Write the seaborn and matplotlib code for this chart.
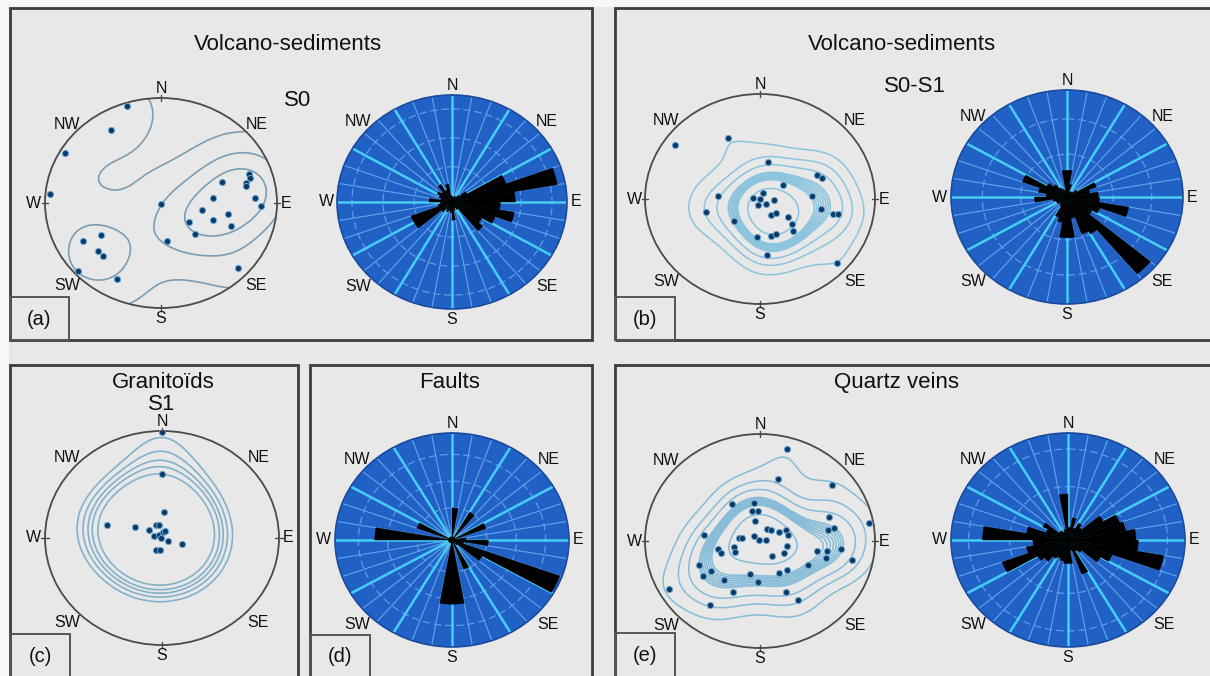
import numpy as np
import matplotlib
matplotlib.use("Agg")
import matplotlib.pyplot as plt
from matplotlib.patches import Rectangle, Circle
import seaborn as sns

sns.set_theme(style="white")
plt.rcParams['font.family'] = ['Liberation Sans', 'DejaVu Sans']

W, H = 1210, 676

# ---------------------------------------------------------------- data
# Rose diagrams: relative frequency per 10-degree azimuth class,
# classes 0-10, 10-20, ... 350-360 (clockwise from north)
bin_centers_deg = list(range(5, 360, 10))

rose_s0 = [0.05, 0.04, 0.06, 0.05, 0.08, 0.15, 0.50, 0.93, 0.55, 0.42,
           0.55, 0.40, 0.30, 0.35, 0.08, 0.06, 0.08, 0.17, 0.10, 0.08,
           0.10, 0.08, 0.12, 0.38, 0.38, 0.12, 0.10, 0.20, 0.10, 0.12,
           0.15, 0.12, 0.19, 0.12, 0.17, 0.06]

rose_s0s1 = [0.25, 0.12, 0.05, 0.06, 0.06, 0.10, 0.27, 0.20, 0.27, 0.28,
             0.54, 0.30, 0.25, 0.94, 0.40, 0.37, 0.20, 0.38, 0.38, 0.24,
             0.20, 0.10, 0.08, 0.10, 0.10, 0.12, 0.28, 0.18, 0.25, 0.41,
             0.20, 0.15, 0.10, 0.08, 0.06, 0.25]

rose_faults = [0.30, 0.03, 0.03, 0.30, 0.03, 0.03, 0.31, 0.03, 0.12, 0.31,
               0.10, 0.98, 0.30, 0.06, 0.03, 0.29, 0.03, 0.60, 0.60, 0.03,
               0.03, 0.03, 0.03, 0.03, 0.03, 0.03, 0.03, 0.66, 0.03, 0.32,
               0.03, 0.03, 0.03, 0.03, 0.03, 0.03]

rose_veins = [0.12, 0.21, 0.12, 0.18, 0.15, 0.35, 0.47, 0.50, 0.58, 0.60,
              0.83, 0.40, 0.32, 0.15, 0.12, 0.34, 0.10, 0.22, 0.22, 0.20,
              0.18, 0.20, 0.26, 0.30, 0.60, 0.36, 0.30, 0.73, 0.36, 0.20,
              0.25, 0.10, 0.10, 0.08, 0.10, 0.43]

# Stereonet poles, projected coordinates in the unit circle (x east, y north)
poles_s0_x = [-0.295, -0.43, -0.83, -0.96, 0.0, 0.76, 0.768, 0.73, 0.736,
              0.53, 0.45, 0.808, 0.865, 0.352, 0.58, 0.244, 0.444, 0.60,
              0.292, 0.052, -0.516, -0.673, -0.544, -0.496, -0.716,
              -0.381, 0.668]
poles_s0_y = [0.92, 0.70, 0.48, 0.086, -0.006, 0.276, 0.238, 0.19, 0.159,
              0.197, 0.048, 0.048, -0.025, -0.063, -0.10, -0.178, -0.165,
              -0.222, -0.298, -0.359, -0.308, -0.359, -0.454, -0.508,
              -0.648, -0.724, -0.616]

poles_s0s1_x = [-0.739, -0.275, 0.072, 0.493, 0.536, 0.197, -0.368, 0.029,
                -0.058, 0.0, -0.014, 0.049, 0.122, 0.455, -0.47, 0.096,
                0.136, -0.226, 0.246, 0.53, 0.638, 0.681, 0.275, 0.29,
                -0.029, 0.096, 0.136, 0.058, 0.67]
poles_s0s1_y = [0.514, 0.584, 0.356, 0.229, 0.197, 0.137, 0.025, 0.057,
                0.006, 0.0, -0.057, -0.048, -0.01, 0.032, -0.127, -0.152,
                -0.137, -0.21, -0.175, -0.095, -0.143, -0.143, -0.238,
                -0.30, -0.359, -0.349, -0.337, -0.533, -0.61]

poles_s1_x = [0.0, 0.0, 0.013, -0.47, -0.234, -0.107, -0.055, -0.027, -0.072,
              -0.027, 0.007, 0.027, -0.007, 0.05, 0.169, -0.05, -0.021]
poles_s1_y = [0.99, 0.60, 0.24, 0.125, 0.103, 0.078, 0.125, 0.119, 0.016,
              0.031, 0.056, 0.0625, 0.0, -0.031, -0.056, -0.116, -0.116]

poles_veins_x = [0.234, 0.153, 0.624, -0.243, -0.055, -0.069, -0.017, 0.604,
                 0.951, -0.04, 0.061, 0.095, 0.587, 0.645, -0.488, -0.185,
                 -0.156, -0.049, -0.006, 0.052, 0.168, 0.225, 0.243, -0.364,
                 -0.335, -0.228, -0.22, 0.234, 0.494, 0.581, 0.702, 0.205,
                 0.104, 0.572, 0.798, -0.532, -0.497, -0.422, -0.315, -0.09,
                 -0.017, 0.168, 0.234, 0.416, -0.792, -0.237, 0.228, 0.327,
                 -0.431]
poles_veins_y = [0.86, 0.575, 0.519, 0.348, 0.354, 0.276, 0.276, 0.224,
                 0.171, 0.183, 0.115, 0.106, 0.106, 0.121, 0.053, 0.028,
                 0.028, 0.043, 0.006, 0.012, 0.084, 0.099, 0.053, -0.071,
                 -0.112, -0.056, -0.102, -0.05, -0.096, -0.093, -0.071,
                 -0.112, -0.14, -0.155, -0.174, -0.227, -0.329, -0.283,
                 -0.36, -0.304, -0.382, -0.295, -0.267, -0.227, -0.444,
                 -0.475, -0.475, -0.553, -0.596]

DIRECTIONS = ["N", "NE", "E", "SE", "S", "SW", "W", "NW"]

# ---------------------------------------------------------------- helpers
BG = "#e8e8e8"
FRAME = "#3c3c3c"

fig = plt.figure(figsize=(W / 100, H / 100), dpi=100, facecolor=BG)


def fx(x):
    return x / W


def fy(y):
    return 1 - y / H


def frame(x0, y0, x1, y1, lw=1.7, color=FRAME, face="none", z=1):
    fig.add_artist(Rectangle((fx(x0), fy(y1)), (x1 - x0) / W, (y1 - y0) / H,
                             transform=fig.transFigure, facecolor=face,
                             edgecolor=color, lw=lw, zorder=z))


def ftext(x, y, s, size=16, **kw):
    fig.text(fx(x), fy(y), s, fontsize=size, ha="center", va="center",
             color="#111111", **kw)


def box_for(cx, cy, rx, ry):
    return [fx(cx - rx), fy(cy + ry), 2 * rx / W, 2 * ry / H]


# label positions in axes-fraction offsets from the circle centre
LABEL_POS = {
    "N": (0.0, 1.02, "center", "bottom"),
    "S": (0.0, -1.03, "center", "top"),
    "E": (1.03, 0.0, "left", "center"),
    "W": (-1.03, 0.0, "right", "center"),
    "NE": (0.73, 0.75, "left", "center"),
    "NW": (-0.70, 0.75, "right", "center"),
    "SE": (0.73, -0.79, "left", "center"),
    "SW": (-0.70, -0.79, "right", "center"),
}


def compass_labels(ax):
    for d in DIRECTIONS:
        nx, ny, ha, va = LABEL_POS[d]
        ax.text(0.5 + 0.5 * nx, 0.5 + 0.5 * ny, d, transform=ax.transAxes,
                ha=ha, va=va, fontsize=11.5, color="#111111", clip_on=False,
                zorder=10)


def pole_density(xs, ys, sigma, n=44):
    """Isotropic Gaussian point density on a coarse grid, scaled to 1."""
    g = np.linspace(-1, 1, n)
    gx, gy = np.meshgrid(g, g)
    dens = np.zeros_like(gx)
    for x, y in zip(xs, ys):
        dens += np.exp(-((gx - x) ** 2 + (gy - y) ** 2) / (2 * sigma ** 2))
    return gx, gy, dens / dens.max()


def stereonet(cx, cy, rx, ry, xs, ys, levels, sigma, line_color, lw):
    ax = fig.add_axes(box_for(cx, cy, rx, ry))
    rim = Circle((0, 0), 1, facecolor="none", edgecolor="#4a4a4a", lw=1.3,
                 clip_on=False, zorder=3)
    ax.add_patch(rim)
    gx, gy, dens = pole_density(xs, ys, sigma)
    cs = ax.contour(gx, gy, dens, levels=levels, colors=line_color,
                    linewidths=lw, zorder=2)
    cs.set_clip_path(rim)
    sns.scatterplot(x=xs, y=ys, s=20, color="#0b3a66", edgecolor="#6aa6d2",
                    linewidth=0.7, ax=ax, zorder=5)
    # cardinal ticks on the primitive circle
    for tx, ty in [(0, 1), (0, -1), (1, 0), (-1, 0)]:
        ax.plot([tx * 0.97, tx * 1.03], [ty * 0.97, ty * 1.03],
                color="#4a4a4a", lw=1.0, clip_on=False)
    ax.set_xlim(-1, 1)
    ax.set_ylim(-1, 1)
    ax.set_aspect("auto")
    ax.axis("off")
    compass_labels(ax)
    return ax


def rose(cx, cy, rx, ry, values, rings):
    ax = fig.add_axes(box_for(cx, cy, rx, ry), projection="polar")
    ax.set_aspect("auto")
    ax.set_theta_zero_location("N")
    ax.set_theta_direction(-1)
    ax.set_facecolor("#2161c6")
    ax.set_ylim(0, 1)
    ax.grid(False)
    ax.set_xticks([])
    ax.set_yticks([])
    ax.spines["polar"].set_color("#1a4a9c")
    ax.spines["polar"].set_linewidth(1.2)
    # concentric class rings
    circ = np.linspace(0, 2 * np.pi, 361)
    for r in rings:
        ax.plot(circ, np.full_like(circ, r), color="#5d9ae6", lw=0.9,
                ls=(0, (6, 3)), zorder=1)
    # radial azimuth lines: every 10 deg thin, every 30 deg bright
    minor = np.deg2rad(np.arange(0, 360, 10))
    major = np.deg2rad(np.arange(0, 360, 30))
    ax.vlines(minor, 0, 1, colors="#5fa6ec", lw=0.8, zorder=1)
    ax.vlines(major, 0, 1, colors="#45cdf5", lw=1.8, zorder=2)
    theta = np.deg2rad(bin_centers_deg)
    ax.bar(theta, values, width=np.deg2rad(10), color="black",
           edgecolor="black", lw=0.3, zorder=3)
    compass_labels(ax)
    return ax


# ---------------------------------------------------------------- frames
fig.add_artist(Rectangle((0, fy(7)), 1, 7 / H, transform=fig.transFigure,
                         facecolor="#f7f7f7", edgecolor="none", zorder=0))
fig.add_artist(Rectangle((0, 0), 9 / W, 1, transform=fig.transFigure,
                         facecolor="#f7f7f7", edgecolor="none", zorder=0))

frame(10, 8, 592, 340, lw=2.0)
frame(615, 8, 1215, 340, lw=2.0)
frame(10, 365, 298, 690, lw=2.0)
frame(310, 365, 592, 690, lw=2.0)
frame(615, 365, 1215, 690, lw=2.0)

# panel letters
for (x0, y0, x1, y1), lab in [((10, 297, 69, 340), "(a)"),
                              ((615, 297, 675, 340), "(b)"),
                              ((10, 634, 70, 690), "(c)"),
                              ((310, 635, 370, 690), "(d)"),
                              ((615, 633, 675, 690), "(e)")]:
    frame(x0, y0, x1, y1, lw=1.4, color="#555555")
    ftext((x0 + x1) / 2, (y0 + min(y1, 676)) / 2 + 1, lab, size=14.5)

# ---------------------------------------------------------------- titles
ftext(288, 45, "Volcano-sediments")
ftext(298, 100, "S0")
ftext(902, 45, "Volcano-sediments")
ftext(915, 87, "S0-S1")
ftext(163, 383, "Granitoïds")
ftext(162, 405, "S1")
ftext(450, 383, "Faults")
ftext(896, 383, "Quartz veins")

# ---------------------------------------------------------------- panels
stereonet(161, 203, 116, 105, poles_s0_x, poles_s0_y,
          levels=[0.11, 0.38, 0.68], sigma=0.25,
          line_color="#7c9db3", lw=1.2)
rose(452, 202, 115, 107, rose_s0, rings=[0.33, 0.6, 0.87])

# dense contour band around the maximum, as in the stacked Kamb levels
band_levels = [0.12, 0.22, 0.32, 0.44, 0.46, 0.48, 0.50, 0.52, 0.54, 0.56,
               0.58, 0.75]

stereonet(760, 199, 115, 105, poles_s0s1_x, poles_s0s1_y,
          levels=band_levels, sigma=0.2, line_color="#8cc4de", lw=1.1)
rose(1067, 197, 116, 107, rose_s0s1, rings=[0.4, 0.73])

stereonet(162, 538, 117, 107, poles_s1_x, poles_s1_y,
          levels=[0.13, 0.17, 0.21, 0.25, 0.31], sigma=0.3,
          line_color="#82b2ca", lw=1.2)
rose(452, 540, 117, 107, rose_faults, rings=[0.3, 0.55, 0.8])

stereonet(760, 541, 115, 107, poles_veins_x, poles_veins_y,
          levels=band_levels, sigma=0.2, line_color="#86bcd8", lw=1.1)
rose(1068, 540, 117, 107, rose_veins, rings=[0.5, 0.85])

fig.savefig("out.png", dpi=100, facecolor=BG)
